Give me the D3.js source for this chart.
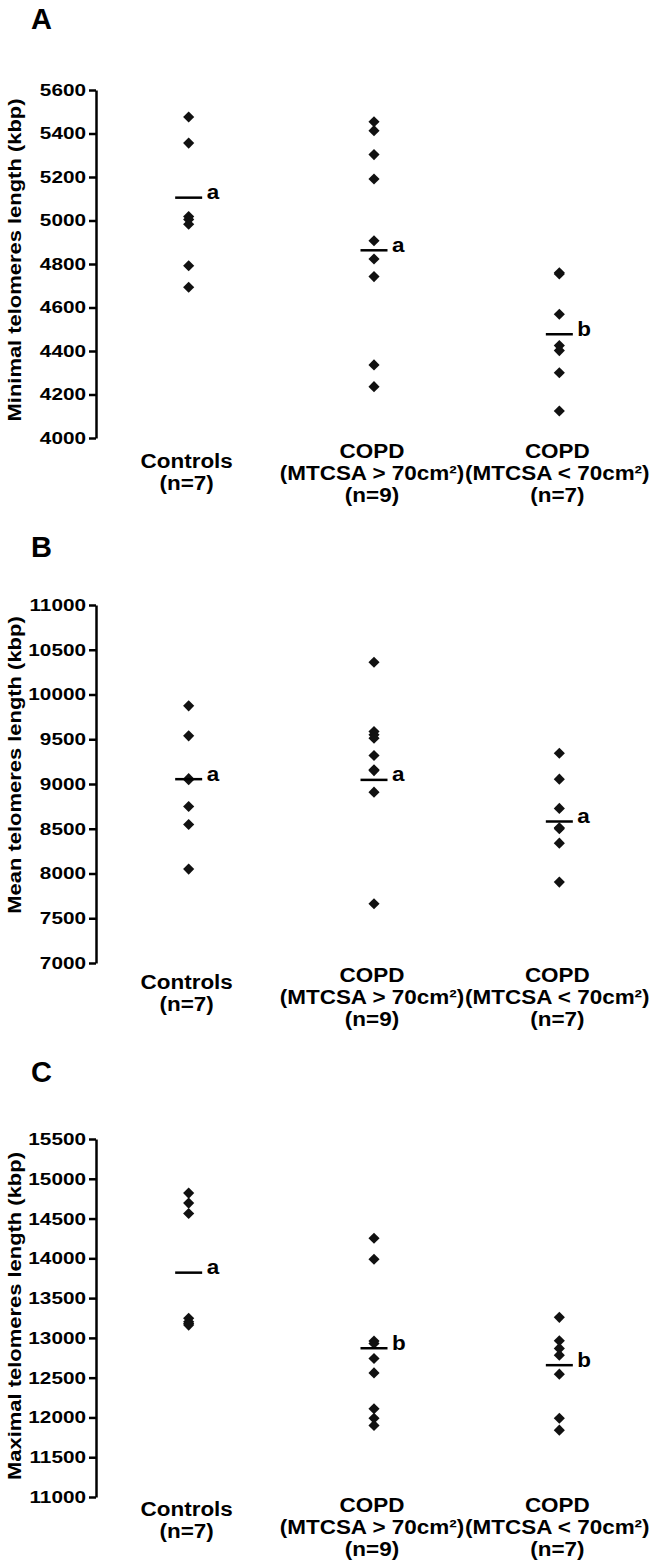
<!DOCTYPE html>
<html>
<head>
<meta charset="utf-8">
<script src="https://cdn.jsdelivr.net/npm/d3@7"></script>
<style>
  body { margin: 0; background: #fff; }
  text { font-family: 'Liberation Sans', Arial, Helvetica, sans-serif; font-weight: bold; fill: #000; }
</style>
</head>
<body>
<svg id="chart" width="654" height="1565"></svg>
<script>
// ---------- DATA ----------
const categories = ["Controls", "COPD_high", "COPD_low"];
const categoryLabels = [
  ["Controls", "(n=7)"],
  ["COPD", "(MTCSA > 70cm²)", "(n=9)"],
  ["COPD", "(MTCSA < 70cm²)", "(n=7)"]
];
const panelLetters = ["A", "B", "C"];
const yTitles = [
  "Minimal telomeres length (kbp)",
  "Mean telomeres length (kbp)",
  "Maximal telomeres length (kbp)"
];

// Panel A: minimal telomere length
const minTicks = [4000, 4200, 4400, 4600, 4800, 5000, 5200, 5400, 5600];
const minControls = [5476, 5356, 5018, 5005, 4983, 4792, 4693];
const minCopdHigh = [5454, 5413, 5303, 5191, 4907, 4823, 4742, 4336, 4236];
const minCopdLow = [4760, 4754, 4569, 4425, 4402, 4300, 4124];
const minMeans = [5105, 4863, 4477];
const minGroups = ["a", "a", "b"];

// Panel B: mean telomere length
const meanTicks = [7000, 7500, 8000, 8500, 9000, 9500, 10000, 10500, 11000];
const meanControls = [9873, 9538, 9060, 9048, 8749, 8548, 8049];
const meanCopdHigh = [10360, 9586, 9550, 9512, 9318, 9158, 9150, 8909, 7662];
const meanCopdLow = [9344, 9054, 8727, 8510, 8500, 8339, 7904];
const meanMeans = [9054, 9046, 8581];
const meanGroups = ["a", "a", "a"];

// Panel C: maximal telomere length
const maxTicks = [11000, 11500, 12000, 12500, 13000, 13500, 14000, 14500, 15000, 15500];
const maxControls = [14820, 14694, 14563, 13246, 13203, 13180, 13161];
const maxCopdHigh = [14253, 13989, 12960, 12930, 12741, 12560, 12110, 11990, 11900];
const maxCopdLow = [13258, 12964, 12868, 12783, 12544, 11990, 11840];
const maxMeans = [13820, 12870, 12657];
const maxGroups = ["a", "b", "b"];

// ---------- LAYOUT ----------
const panels = [
  { letter: panelLetters[0], title: yTitles[0], ticks: minTicks,
    series: [minControls, minCopdHigh, minCopdLow], means: minMeans, groups: minGroups,
    yBottom: 438, yTop: 90, letterY: 29, titleCenter: 260, lblCtrl: 468, lblCopd: 458 },
  { letter: panelLetters[1], title: yTitles[1], ticks: meanTicks,
    series: [meanControls, meanCopdHigh, meanCopdLow], means: meanMeans, groups: meanGroups,
    yBottom: 963, yTop: 605, letterY: 557, titleCenter: 765, lblCtrl: 989, lblCopd: 982 },
  { letter: panelLetters[2], title: yTitles[2], ticks: maxTicks,
    series: [maxControls, maxCopdHigh, maxCopdLow], means: maxMeans, groups: maxGroups,
    yBottom: 1497, yTop: 1139, letterY: 1082, titleCenter: 1316, lblCtrl: 1516, lblCopd: 1512 }
];

const svg = d3.select("#chart");
const axisX = 96;
const x = d3.scaleBand().domain(categories).range([axisX, 652]);
const cx = c => x(c) + x.bandwidth() / 2;
const diamond = d3.symbol().type(d3.symbolSquare).size(62);

function stext(g, px, py, str, size, sx, anchor, rot) {
  return g.append("text")
    .attr("transform", `translate(${px},${py})` + (rot ? ` rotate(${rot})` : "") + ` scale(${sx},1)`)
    .attr("text-anchor", anchor || "start")
    .style("font-size", size + "px")
    .text(str);
}

panels.forEach(p => {
  const g = svg.append("g");
  const y = d3.scaleLinear()
    .domain([p.ticks[0], p.ticks[p.ticks.length - 1]])
    .range([p.yBottom, p.yTop]);

  // panel letter
  stext(g, 31, p.letterY, p.letter, 29, 1, "start");

  // y axis
  const axis = d3.axisLeft(y).tickValues(p.ticks).tickSize(7).tickPadding(3)
    .tickSizeOuter(0).tickFormat(d3.format("d"));
  const ga = g.append("g").attr("transform", `translate(${axisX},0)`).call(axis);
  ga.attr("font-family", null).attr("font-size", null);
  ga.select(".domain").attr("stroke", "#000").attr("stroke-width", 2.5);
  ga.selectAll(".tick line").attr("stroke", "#000").attr("stroke-width", 2.5);
  ga.selectAll(".tick text").each(function () {
    const t = d3.select(this);
    const xx = +t.attr("x");
    t.attr("x", 0).attr("transform", `translate(${xx},0) scale(1.22,1)`);
  }).style("font-size", "17px").attr("fill", "#000");

  // y axis title
  stext(g, 21, p.titleCenter, p.title, 19, 1.155, "middle", -90);

  // category labels
  categories.forEach((c, i) => {
    const lines = categoryLabels[i];
    const base = i === 0 ? p.lblCtrl : p.lblCopd;
    lines.forEach((ln, k) => {
      stext(g, cx(c) - 2, base + k * 22, ln, 21, 1.07, "middle");
    });
  });

  // points
  categories.forEach((c, i) => {
    g.append("g").selectAll("path")
      .data(p.series[i])
      .join("path")
      .attr("d", diamond)
      .attr("transform", d => `translate(${cx(c)},${y(d)}) rotate(45)`)
      .attr("fill", "#111");

    // mean line
    g.append("line")
      .attr("x1", cx(c) - 13.5).attr("x2", cx(c) + 13.5)
      .attr("y1", y(p.means[i])).attr("y2", y(p.means[i]))
      .attr("stroke", "#000").attr("stroke-width", 2.5);

    // group letter
    stext(g, cx(c) + 18, y(p.means[i]) + 1.5, p.groups[i], 21, 1.07, "start");
  });
});
</script>
</body>
</html>
